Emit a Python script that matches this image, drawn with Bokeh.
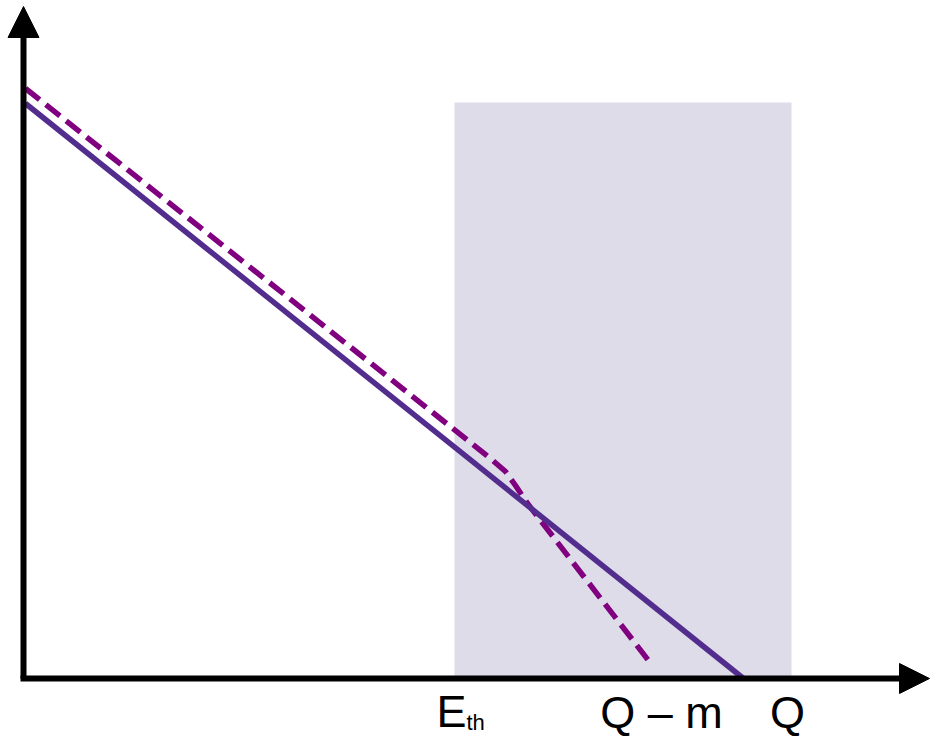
from bokeh.plotting import figure
from bokeh.models import Range1d, Arrow, NormalHead, ColumnDataSource
from bokeh.core.properties import value
from bokeh.embed import file_html
from bokeh.resources import INLINE

# Energy axis positions (arbitrary units, origin at the axes corner)
e_threshold = 431
q_minus_m = 638
q_value = 720
window_right = 768
window_top = 576

# Spectrum without neutrino mass: straight line reaching zero at Q
solid_x = [2, 720]
solid_y = [575, 0]

# Spectrum with neutrino mass: bends down and ends at Q - m
dashed_x = [2, 467, 482, 492, 504, 625]
dashed_y = [590, 220, 207, 193, 175, 18]

# Axis label texts and where they sit
tick_labels = ["Q \u2013 m", "Q"]
tick_positions = [638, 764]

p = figure(width=930, height=737, output_backend="svg", toolbar_location=None,
           x_range=Range1d(-23, 907), y_range=Range1d(-59, 678),
           min_border=0, outline_line_color=None)
p.axis.visible = False
p.grid.visible = False
p.background_fill_color = "white"

# Shaded region of interest between E_th and beyond Q
p.quad(left=[e_threshold], right=[window_right], bottom=[0], top=[window_top],
       fill_color="#dedce8", line_color=None)

p.line(dashed_x, dashed_y, line_color="#800080", line_width=5.5,
       line_dash="18 8", line_join="round")
p.line(solid_x, solid_y, line_color="#522d8e", line_width=5.5)

# Axes with arrow heads
p.add_layout(Arrow(end=NormalHead(size=31, fill_color="black", line_color="black", line_width=1),
                   x_start=0, y_start=0, x_end=0, y_end=672,
                   line_color="black", line_width=6))
p.add_layout(Arrow(end=NormalHead(size=30, fill_color="black", line_color="black", line_width=1),
                   x_start=-3, y_start=0, x_end=906, y_end=0,
                   line_color="black", line_width=6))

font = value("Liberation Sans")
src = ColumnDataSource(dict(x=tick_positions, y=[-34, -34], t=tick_labels))
p.text(x="x", y="y", text="t", source=src, text_font=font, text_font_size="45px",
       text_align="center", text_baseline="middle", text_color="black")
p.text(x=[e_threshold - 18], y=[-33], text=["E"], text_font=font, text_font_size="45px",
       text_align="left", text_baseline="middle", text_color="black")
p.text(x=[e_threshold + 12], y=[-44], text=["th"], text_font=font, text_font_size="22px",
       text_align="left", text_baseline="middle", text_color="black")

open("out.html", "w").write(file_html(p, INLINE))
